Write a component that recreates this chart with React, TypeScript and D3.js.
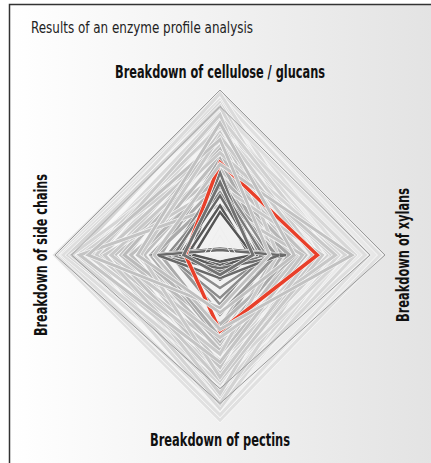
import * as React from 'react';
import * as d3 from 'd3';

const title = 'Results of an enzyme profile analysis';
// clockwise from the top
const axisLabels = [
  'Breakdown of cellulose / glucans',
  'Breakdown of xylans',
  'Breakdown of pectins',
  'Breakdown of side chains',
];

// each profile: [cellulose/glucans, xylans, pectins, side chains], share of max activity
const backProfiles: number[][] = [
  [0.99, 0.97, 1.0, 1.0],
  [0.96, 0.9, 0.97, 0.98],
  [0.94, 0.75, 0.92, 0.96],
  [0.98, 0.62, 0.85, 0.9],
  [0.88, 0.88, 0.8, 0.95],
  [0.86, 0.7, 0.93, 0.82],
  [0.92, 0.55, 0.78, 0.88],
  [0.8, 0.82, 0.86, 0.7],
  [0.9, 0.48, 0.72, 0.92],
  [0.76, 0.72, 0.82, 0.86],
  [0.7, 0.6, 0.9, 0.78],
  [0.84, 0.66, 0.64, 0.74],
  [0.66, 0.76, 0.74, 0.9],
  [0.72, 0.5, 0.84, 0.66],
  [0.78, 0.58, 0.6, 0.8],
  [0.62, 0.68, 0.7, 0.84],
  [0.74, 0.42, 0.66, 0.56],
  [0.56, 0.6, 0.72, 0.6],
  [0.66, 0.48, 0.56, 0.72],
  [0.5, 0.4, 0.68, 0.64],
  [0.7, 0.36, 0.5, 0.6],
  [0.52, 0.52, 0.6, 0.46],
  [0.6, 0.34, 0.54, 0.5],
  [0.46, 0.44, 0.58, 0.54],
  [0.64, 0.28, 0.44, 0.58],
  [0.44, 0.38, 0.52, 0.42],
  [0.58, 0.3, 0.46, 0.36],
  [0.48, 0.46, 0.42, 0.5],
  [0.38, 0.42, 0.5, 0.4],
  [0.85, 0.35, 0.6, 0.75],
  [0.42, 0.62, 0.76, 0.7],
  [0.62, 0.7, 0.5, 0.66],
  [0.72, 0.56, 0.74, 0.48],
  [0.3, 0.5, 0.65, 0.85],
  [0.5, 0.24, 0.3, 0.26],
  [0.4, 0.34, 0.36, 0.3],
  [0.46, 0.3, 0.2, 0.3],
  [0.38, 0.28, 0.26, 0.32],
  [0.5, 0.2, 0.15, 0.18],
  [0.42, 0.26, 0.1, 0.28],
  [0.36, 0.22, 0.06, 0.24],
  [0.3, 0.18, 0.08, 0.2],
  [0.26, 0.2, 0.04, 0.16],
  [0.04, 0.4, 0.08, 0.42],
  [0.03, 0.36, 0.14, 0.38],
];

const highlightProfile = [0.56, 0.59, 0.46, 0.21];

const frontProfiles: number[][] = [
  [0.55, 0.8, 0.45, 0.4],
  [0.7, 0.3, 0.32, 0.8],
  [0.8, 0.45, 0.35, 0.5],
  [0.44, 0.2, 0.12, 0.22],
];

// thin outline profiles
const outlineProfiles: number[][] = [
  [1.0, 1.0, 0.9, 1.0],
  [0.9, 0.91, 0.81, 0.9],
  [0.17, 0.1, 0.03, 0.1],
  [0.12, 0.07, 0.02, 0.07],
];

export default function App() {
  const width = 431;
  const height = 463;
  const cx = 220;
  const cy = 255;

  const r = d3.scaleLinear().domain([0, 1]).range([0, 165]);
  const shade = d3
    .scaleLinear<string>()
    .domain([0.18, 0.3, 0.5, 0.9])
    .range(['#555555', '#888888', '#bebebe', '#e0e0e0'])
    .clamp(true);

  const line = d3
    .lineRadial<number>()
    .angle((_, i) => (i * Math.PI) / 2)
    .radius((d) => r(d))
    .curve(d3.curveLinearClosed);

  const strokeOf = (p: number[]) => shade(d3.mean(p) as number);
  const widthOf = (p: number[]) => ((d3.mean(p) as number) < 0.35 ? 2.5 : 3.2);

  // light halo under each line, so crossings stay readable
  const profileLine = (p: number[], key: string, w: number, color: string) => (
    <g key={key}>
      <path d={line(p) as string} stroke="#fafafa" strokeWidth={w + 1.2} />
      <path d={line(p) as string} stroke={color} strokeWidth={w} />
    </g>
  );

  const labelFont = "'Liberation Sans Narrow', 'DejaVu Sans Condensed', sans-serif";

  return (
    <svg width={width} height={height} style={{ position: 'absolute', left: 0, top: 0 }}>
      <defs>
        <linearGradient id="bg" x1="0" x2="1" y1="0" y2="0">
          <stop offset="0" stopColor="#ffffff" />
          <stop offset="1" stopColor="#e2e2e2" />
        </linearGradient>
      </defs>
      <rect x={0} y={0} width={width} height={height} fill="#fff" />
      <rect x={9.5} y={4.5} width={440} height={480} fill="url(#bg)" stroke="#333" strokeWidth={1.5} />

      <text x={31} y={33} fontFamily={labelFont} fontSize={15} fill="#222" textLength={222} lengthAdjust="spacingAndGlyphs">
        {title}
      </text>

      <g transform={`translate(${cx},${cy})`} fill="none" strokeLinejoin="miter">
        {backProfiles.map((p, i) => profileLine(p, 'b' + i, widthOf(p), strokeOf(p)))}
        {profileLine(highlightProfile, 'red', 3.5, '#e8402a')}
        {frontProfiles.map((p, i) => profileLine(p, 'f' + i, 3, strokeOf(p)))}
        {outlineProfiles.map((p, i) => (
          <path key={'o' + i} d={line(p) as string} stroke={i < 2 ? '#9a9a9a' : '#eeeeee'} strokeWidth={1} />
        ))}
      </g>

      <g fontFamily={labelFont} fontWeight="bold" fontSize={17} fill="#111" textAnchor="middle">
        <text x={cx} y={78} textLength={210} lengthAdjust="spacingAndGlyphs">{axisLabels[0]}</text>
        <text transform={`translate(409,${cy}) rotate(-90)`} textLength={134} lengthAdjust="spacingAndGlyphs">{axisLabels[1]}</text>
        <text x={cx} y={446} textLength={140} lengthAdjust="spacingAndGlyphs">{axisLabels[2]}</text>
        <text transform={`translate(47,${cy}) rotate(-90)`} textLength={162} lengthAdjust="spacingAndGlyphs">{axisLabels[3]}</text>
      </g>
    </svg>
  );
}
